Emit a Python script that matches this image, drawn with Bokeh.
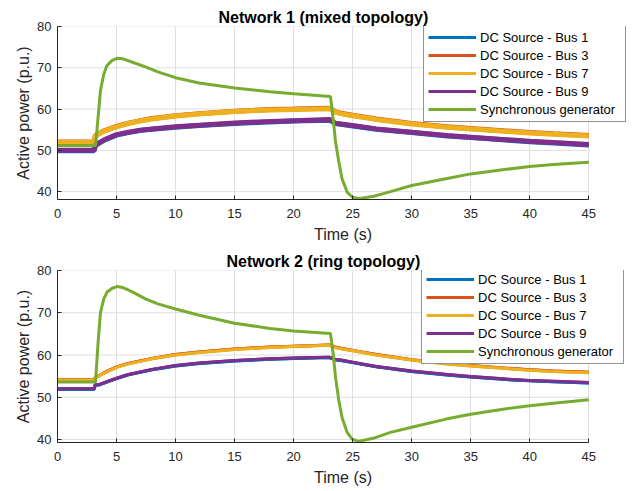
from bokeh.plotting import figure
from bokeh.models import Legend, LegendItem, Range1d, FixedTicker
from bokeh.layouts import column
from bokeh.embed import file_html
from bokeh.resources import INLINE

# ---------------- data ----------------
T_DC = [0, 3.1, 3.2, 3.5, 4, 5, 6, 7, 8, 10, 12, 15, 18, 20, 23, 23.2, 23.5, 24, 25, 27, 30, 33, 35, 38, 40, 42, 45]
T_SG = [0, 3.22, 3.44, 3.64, 3.92, 4.2, 4.63, 5.05, 5.5, 6.3, 7.45, 8.5, 10, 12, 15, 18, 20, 23.12, 23.35, 23.55,
        23.83, 24.1, 24.53, 24.96, 25.5, 26.8, 28.2, 30, 33, 35, 38, 40, 42, 45]

# Network 1 (mixed topology)
n1_bus1 = [49.9, 49.9, 51.1, 51.7, 52.5, 53.7, 54.3, 54.8, 55.1, 55.6, 56.0, 56.5, 56.9, 57.1, 57.3, 57.1, 56.5,
           56.3, 55.9, 55.1, 54.3, 53.5, 53.1, 52.5, 52.1, 51.8, 51.3]
n1_bus3 = [52.0, 52.0, 53.5, 54.1, 54.8, 55.8, 56.6, 57.2, 57.7, 58.4, 58.9, 59.5, 59.9, 60.0, 60.2, 60.0, 59.4,
           59.0, 58.5, 57.6, 56.5, 55.7, 55.3, 54.7, 54.3, 54.0, 53.6]
n1_bus7 = [51.9, 51.9, 53.4, 54.0, 54.7, 55.7, 56.5, 57.1, 57.6, 58.3, 58.8, 59.4, 59.8, 59.9, 60.1, 59.9, 59.3,
           58.9, 58.4, 57.5, 56.4, 55.6, 55.2, 54.6, 54.2, 53.9, 53.5]
n1_bus9 = [50.0, 50.0, 51.2, 51.8, 52.6, 53.8, 54.4, 54.9, 55.2, 55.7, 56.1, 56.6, 57.0, 57.2, 57.5, 57.3, 56.6,
           56.4, 56.0, 55.2, 54.4, 53.6, 53.2, 52.6, 52.2, 51.9, 51.4]
n1_sg = [51.2, 51.2, 58.0, 64.5, 68.5, 70.6, 71.8, 72.3, 72.2, 71.4, 70.2, 69.0, 67.6, 66.3, 65.1, 64.2, 63.7,
         63.05, 57.6, 52.0, 47.2, 43.1, 39.9, 38.7, 38.3, 38.9, 40.0, 41.5, 43.2, 44.3, 45.4, 46.1, 46.6, 47.1]

# Network 2 (ring topology)
n2_bus1 = [51.9, 51.9, 52.9, 52.9, 53.4, 54.4, 55.3, 55.9, 56.5, 57.4, 58.0, 58.6, 59.0, 59.2, 59.4, 59.2, 58.9,
           58.7, 58.2, 57.2, 56.1, 55.3, 54.8, 54.2, 53.9, 53.7, 53.4]
n2_bus3 = [54.2, 54.2, 54.7, 55.1, 55.9, 57.2, 58.0, 58.6, 59.2, 60.1, 60.7, 61.4, 61.9, 62.1, 62.4, 62.2, 61.9,
           61.6, 61.1, 60.1, 58.9, 58.0, 57.5, 56.9, 56.5, 56.2, 55.9]
n2_bus7 = [54.1, 54.1, 54.6, 55.0, 55.8, 57.1, 57.9, 58.5, 59.1, 60.0, 60.6, 61.3, 61.8, 62.0, 62.3, 62.1, 61.8,
           61.5, 61.0, 60.0, 58.8, 57.9, 57.4, 56.8, 56.4, 56.1, 55.8]
n2_bus9 = [52.0, 52.0, 53.0, 53.0, 53.5, 54.5, 55.4, 56.0, 56.6, 57.5, 58.1, 58.7, 59.1, 59.3, 59.5, 59.3, 59.0,
           58.8, 58.3, 57.3, 56.2, 55.4, 54.9, 54.3, 54.0, 53.8, 53.5]
n2_sg = [53.6, 53.6, 63.0, 70.1, 73.3, 74.9, 75.8, 76.2, 76.0, 75.0, 73.3, 72.1, 70.9, 69.4, 67.5, 66.3, 65.7,
         65.1, 60.3, 54.7, 49.2, 45.2, 41.7, 40.1, 39.55, 40.35, 41.7, 42.9, 44.9, 46.0, 47.3, 48.0, 48.6, 49.4]

LABELS = ["DC Source - Bus 1", "DC Source - Bus 3", "DC Source - Bus 7", "DC Source - Bus 9", "Synchronous generator"]
COLORS = ["#0072BD", "#D95319", "#EDB120", "#7E2F8E", "#77AC30"]
X_TICKS = [0, 5, 10, 15, 20, 25, 30, 35, 40, 45]
Y_TICKS = [40, 50, 60, 70, 80]
X_MIN, X_MAX = 0, 45

FONT = "Liberation Sans"
AX = "#262626"
GRID = "#dfdfdf"

# frame is widened to the right (beyond x = 45) so the legend can overhang like the original
FRAME_LEFT, FRAME_RIGHT_DATA, FRAME_RIGHT = 57, 588.3, 628
PX_PER_UNIT = (FRAME_RIGHT_DATA - FRAME_LEFT) / (X_MAX - X_MIN)
X_VIEW_END = X_MAX + (FRAME_RIGHT - FRAME_RIGHT_DATA) / PX_PER_UNIT


def make_fig(title, title_offset, height, border_top, border_bottom, ymin, dc_series, sg, dc_width, legend_loc):
    p = figure(width=643, height=height, title=title, output_backend="svg", toolbar_location=None,
               x_range=Range1d(X_MIN, X_VIEW_END), y_range=Range1d(ymin, 80),
               min_border_left=FRAME_LEFT, min_border_right=643 - FRAME_RIGHT, min_border_top=border_top,
               min_border_bottom=border_bottom)
    p.outline_line_color = None
    p.background_fill_color = "white"
    p.border_fill_color = "white"

    p.title.align = "left"
    p.title.offset = title_offset
    p.title.text_font = FONT
    p.title.text_font_size = "16px"
    p.title.text_font_style = "bold"
    p.title.text_color = "#000000"
    p.title.standoff = 2

    for ax in (p.xaxis[0], p.yaxis[0]):
        ax.axis_line_color = AX
        ax.major_tick_line_color = AX
        ax.major_tick_in = 4
        ax.major_tick_out = 0
        ax.minor_tick_line_color = None
        ax.major_label_text_font = FONT
        ax.major_label_text_font_size = "13px"
        ax.major_label_text_color = AX
        ax.axis_label_text_font = FONT
        ax.axis_label_text_font_size = "16px"
        ax.axis_label_text_font_style = "normal"
        ax.axis_label_text_color = AX
    p.xaxis.bounds = (X_MIN, X_MAX)
    p.xaxis.ticker = FixedTicker(ticks=X_TICKS)
    p.yaxis.ticker = FixedTicker(ticks=Y_TICKS)
    p.xaxis.axis_label = "Time (s)"
    p.yaxis.axis_label = "Active power (p.u.)"
    p.xaxis.major_label_standoff = 9
    p.xaxis.axis_label_standoff = 5
    p.yaxis.major_label_standoff = 6
    p.yaxis.axis_label_standoff = 2

    p.xgrid.grid_line_color = GRID
    p.xgrid.bounds = (X_MIN, X_MAX)
    p.ygrid.visible = False
    # horizontal grid lines limited to the data's x extent
    p.segment(x0=[X_MIN] * len(Y_TICKS), x1=[X_MAX] * len(Y_TICKS), y0=Y_TICKS, y1=Y_TICKS,
              line_color=GRID, line_width=1, level="underlay")

    thin = []
    for ys, col, lab in zip(dc_series, COLORS[:4], LABELS[:4]):
        r_thin = p.line(T_DC, ys, line_color=col, line_width=3)
        thin.append((lab, r_thin))
    for ys, col in zip(dc_series, COLORS[:4]):
        p.line(T_DC, ys, line_color=col, line_width=dc_width)
    r_sg = p.line(T_SG, sg, line_color=COLORS[4], line_width=3)
    items = [LegendItem(label=lab, renderers=[r]) for lab, r in thin]
    items.append(LegendItem(label=LABELS[4], renderers=[r_sg]))

    leg = Legend(items=items, location=legend_loc)
    leg.label_text_font = FONT
    leg.label_text_font_size = "13px"
    leg.label_text_color = "#000000"
    leg.glyph_width = 48
    leg.glyph_height = 16
    leg.label_height = 16
    leg.label_width = 141
    leg.label_standoff = 4
    leg.spacing = 2
    leg.padding = 4
    leg.margin = 0
    leg.border_line_color = AX
    leg.border_line_width = 1
    leg.background_fill_color = "white"
    leg.background_fill_alpha = 1
    p.add_layout(leg)
    return p


p1 = make_fig("Network 1 (mixed topology)", 161, 245, 26, 46, 38.1,
              [n1_bus1, n1_bus3, n1_bus7, n1_bus9], n1_sg, 5, (366, 77))
p2 = make_fig("Network 2 (ring topology)", 169, 246, 25, 49, 39.3,
              [n2_bus1, n2_bus3, n2_bus7, n2_bus9], n2_sg, 3, (364, 78))

layout = column(p1, p2, spacing=0)
open("out.html", "w").write(file_html(layout, INLINE))
